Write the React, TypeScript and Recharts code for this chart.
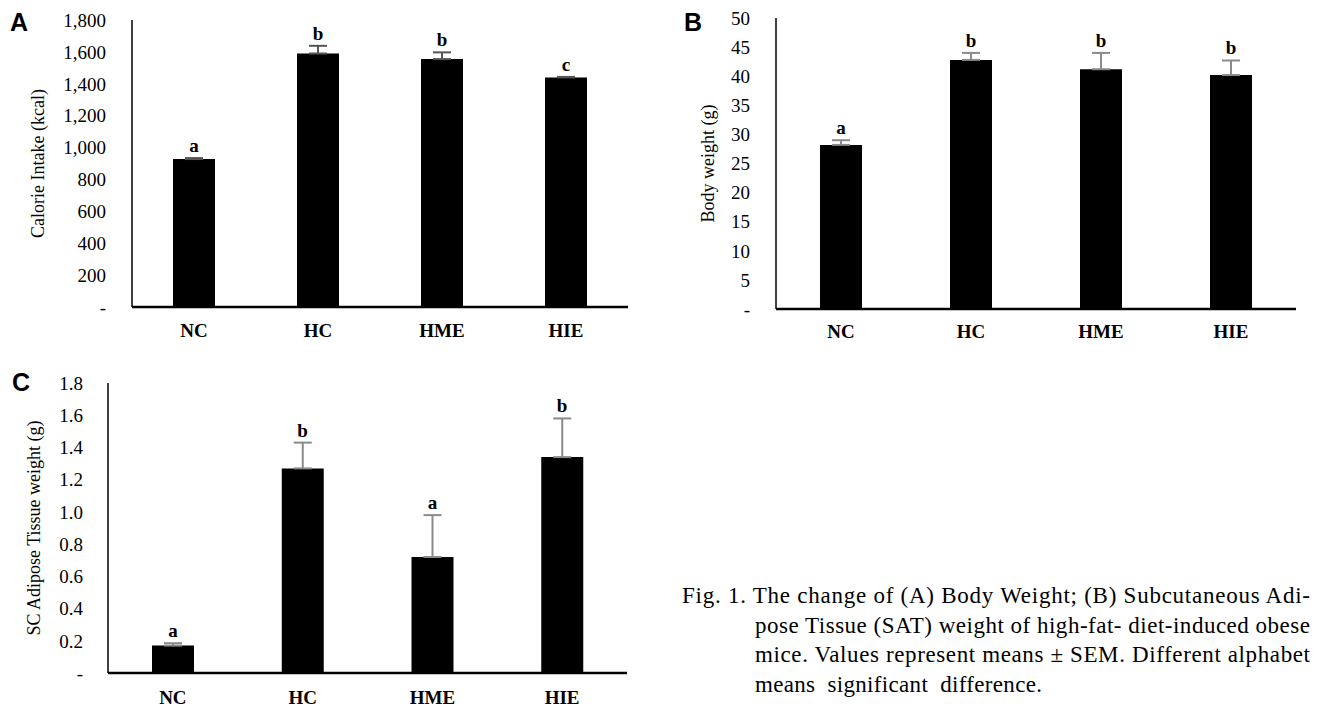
import React from 'react';
import { ComposedChart, Bar, Line, XAxis, YAxis, ErrorBar, LabelList } from 'recharts';

const groups = ['NC', 'HC', 'HME', 'HIE'];

// (A) calorie intake
const calorieMeans = [928, 1590, 1555, 1440];
const calorieSem = [6, 48, 42, 3];
const calorieLetters = ['a', 'b', 'b', 'c'];
const calorieTicks = [0, 200, 400, 600, 800, 1000, 1200, 1400, 1600, 1800];

// (B) body weight
const weightMeans = [28.2, 42.8, 41.2, 40.2];
const weightSem = [0.8, 1.2, 2.8, 2.5];
const weightLetters = ['a', 'b', 'b', 'b'];
const weightTicks = [0, 5, 10, 15, 20, 25, 30, 35, 40, 45, 50];

// (C) SC adipose tissue
const satMeans = [0.17, 1.27, 0.72, 1.34];
const satSem = [0.015, 0.16, 0.26, 0.24];
const satLetters = ['a', 'b', 'a', 'b'];
const satTicks = [0, 0.2, 0.4, 0.6, 0.8, 1.0, 1.2, 1.4, 1.6, 1.8];

const captionLines = [
  'Fig. 1. The change of (A) Body Weight; (B) Subcutaneous Adi-',
  'pose Tissue (SAT) weight of high-fat- diet-induced obese',
  'mice. Values represent means ± SEM. Different alphabet',
  'means  significant  difference.',
];

const serif = '"Liberation Serif", "Times New Roman", serif';

const buildRows = (means: number[], sems: number[], letters: string[]) =>
  groups.map((g, i) => ({
    group: g,
    mean: means[i],
    sem: [0, sems[i]],
    top: means[i] + sems[i],
    letter: letters[i],
  }));

type PanelProps = {
  left: number;
  top: number;
  height: number;
  plotRight: number;
  axisWidth: number;
  marginTop: number;
  marginBottom: number;
  rows: any[];
  ticks: number[];
  fmt: (v: number) => string;
  title: string;
  titleX: number;
  yGap: number;
  xGap: number;
  errColor: string;
};

const Panel = (p: PanelProps) => {
  const renderTitle = (props: any) => {
    const vb = props.viewBox;
    const cy = vb.y + vb.height / 2;
    return (
      <text
        x={p.titleX}
        y={cy}
        transform={`rotate(-90 ${p.titleX} ${cy})`}
        textAnchor="middle"
        dominantBaseline="central"
        fontFamily={serif}
        fontSize={18}
        fill="#000"
      >
        {p.title}
      </text>
    );
  };
  return (
    <div style={{ position: 'absolute', left: p.left, top: p.top }}>
      <ComposedChart
        width={650}
        height={p.height}
        data={p.rows}
        margin={{ top: p.marginTop, right: p.plotRight, bottom: p.marginBottom, left: 0 }}
      >
        <XAxis
          dataKey="group"
          height={30}
          tickLine={false}
          tickSize={0}
          tickMargin={p.xGap}
          axisLine={{ stroke: '#000', strokeWidth: 2.5 }}
          tick={{ fill: '#000', fontFamily: serif, fontSize: 19, fontWeight: 'bold' }}
          interval={0}
        />
        <YAxis
          width={p.axisWidth}
          domain={[p.ticks[0], p.ticks[p.ticks.length - 1]]}
          ticks={p.ticks}
          interval={0}
          tickLine={false}
          tickSize={0}
          tickMargin={p.yGap}
          tickFormatter={p.fmt}
          axisLine={{ stroke: '#000', strokeWidth: 1.5 }}
          tick={{ fill: '#000', fontFamily: serif, fontSize: 19 }}
          label={renderTitle}
        />
        <Bar dataKey="mean" fill="#000" barSize={42} isAnimationActive={false}>
          <ErrorBar dataKey="sem" direction="y" width={9} stroke={p.errColor} strokeWidth={2} />
        </Bar>
        <Line
          dataKey="top"
          stroke="none"
          dot={false}
          activeDot={false}
          legendType="none"
          isAnimationActive={false}
        >
          <LabelList
            dataKey="letter"
            position="top"
            offset={6}
            fill="#000"
            fontFamily={serif}
            fontSize={19}
            fontWeight="bold"
          />
        </Line>
      </ComposedChart>
    </div>
  );
};

const App = () => {
  const captionX = [682, 755, 755, 755];
  const captionLen = [628, 555, 555, 287];
  const captionY = [603, 633, 662, 692];
  return (
    <div style={{ position: 'absolute', left: 0, top: 0, width: 1340, height: 711, background: '#fff', overflow: 'hidden' }}>
      <Panel
        left={0}
        top={0}
        height={350}
        plotRight={22}
        axisWidth={132}
        marginTop={20}
        marginBottom={13}
        rows={buildRows(calorieMeans, calorieSem, calorieLetters)}
        ticks={calorieTicks}
        fmt={(v) => (v === 0 ? '-' : v.toLocaleString('en-US'))}
        title="Calorie Intake (kcal)"
        titleX={38}
        yGap={26}
        xGap={17}
        errColor="#555"
      />
      <Panel
        left={670}
        top={0}
        height={350}
        plotRight={24}
        axisWidth={106}
        marginTop={18}
        marginBottom={11}
        rows={buildRows(weightMeans, weightSem, weightLetters)}
        ticks={weightTicks}
        fmt={(v) => (v === 0 ? '-' : String(v))}
        title="Body weight (g)"
        titleX={38}
        yGap={26}
        xGap={16}
        errColor="#8a8a8a"
      />
      <Panel
        left={0}
        top={360}
        height={351}
        plotRight={23}
        axisWidth={108}
        marginTop={23}
        marginBottom={8}
        rows={buildRows(satMeans, satSem, satLetters)}
        ticks={satTicks}
        fmt={(v) => (v === 0 ? '-' : v.toFixed(1))}
        title="SC Adipose Tissue weight (g)"
        titleX={34}
        yGap={25}
        xGap={18}
        errColor="#8a8a8a"
      />
      <svg
        width={1340}
        height={711}
        style={{ position: 'absolute', left: 0, top: 0, pointerEvents: 'none' }}
      >
        <g fontFamily='"Liberation Sans", Arial, sans-serif' fontWeight="bold" fontSize={25} fill="#000">
          <text x={10} y={31}>A</text>
          <text x={684} y={31}>B</text>
          <text x={12} y={391}>C</text>
        </g>
        <g fontFamily={serif} fontSize={23} fill="#000">
          {captionLines.map((line, i) => (
            <text
              key={i}
              x={captionX[i]}
              y={captionY[i]}
              textLength={captionLen[i]}
              lengthAdjust="spacing"
              style={{ whiteSpace: 'pre' }}
            >
              {line}
            </text>
          ))}
        </g>
      </svg>
    </div>
  );
};

export default App;
